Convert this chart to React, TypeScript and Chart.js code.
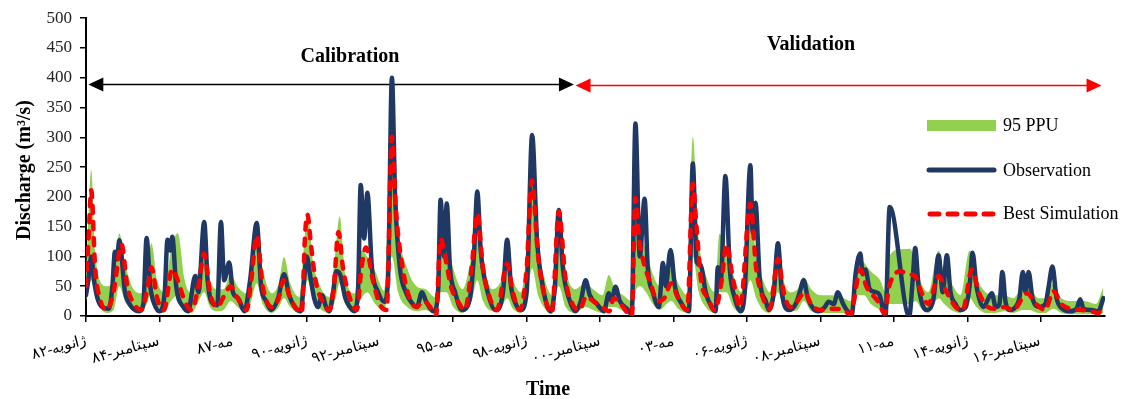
import React, { useEffect, useRef } from "react";
import { Chart, registerables } from "chart.js";

Chart.register(...registerables);

// x axis: months since January 1982
const tickMonths = [0, 32, 64, 96, 128, 160, 192, 224, 256, 288, 320, 352, 384, 416];
const tickLabels = [
  "ژانویه-۸۲", "سپتامبر-۸۴", "مه-۸۷", "ژانویه-۹۰", "سپتامبر-۹۲", "مه-۹۵", "ژانویه-۹۸",
  "سپتامبر-۰۰", "مه-۰۳", "ژانویه-۰۶", "سپتامبر-۰۸", "مه-۱۱", "ژانویه-۱۴", "سپتامبر-۱۶",
];

const obsMonth = [
  0, 1, 2.3, 3.5, 5, 7, 10, 11.5, 12.6, 13.5, 14.5, 17, 19, 23, 25, 26.4, 28, 30, 32, 34.3, 35.5, 36.7, 37.6, 39.3,
  42.4, 44.5, 47.6, 49, 51.5, 53, 55.4, 57.2, 58.8, 60.2, 62.4, 64, 66.3, 69, 71.5, 74.4, 76.3, 78.5, 80.7, 83.7,
  86.3, 88.5, 91, 93.6, 95, 96.2, 97.6, 99.4, 101, 102.9, 104.6, 106, 107.7, 109, 110.7, 113, 115, 116.8, 118.5,
  119.7, 121.2, 122.6, 124.6, 127.3, 130, 131.6, 133.3, 134.7, 136.8, 139.4, 142, 144.2, 146.4, 148.1, 151.6, 153.4,
  154.5, 156, 157.2, 158.6, 160.8, 163.8, 167.3, 169, 170.5, 172, 174.7, 178.5, 181.7, 183.5, 185.2, 187.3, 189.4,
  192, 194.4, 196.5, 199, 202.4, 204.3, 206, 207.8, 210.4, 213.3, 215.6, 217.7, 219.5, 222.6, 225.7, 227.8, 229,
  230.7, 232.6, 235.7, 237.8, 239.4, 241.3, 243.4, 244.8, 247, 249.6, 251.4, 252.6, 254.7, 256.6, 259.6, 262.7,
  264.4, 266.1, 267.9, 270, 272.6, 274.3, 275.3, 276.6, 278.6, 280.5, 282.7, 285.2, 287, 289.5, 290.5, 291.7, 293.6,
  296.2, 297.5, 299.7, 301.5, 303.2, 306.2, 309.2, 311, 312.7, 314.5, 317, 319.2, 321.9, 323.6, 325.8, 327.6, 329.7,
  331.5, 333.7, 335.3, 337.4, 338.4, 339.6, 341.5, 344.1, 345.8, 348.3, 350.2, 358.7, 360.2, 361.3, 362.8, 366.3,
  369.3, 371.5, 373.3, 375.1, 376.7, 378.9, 381, 383.3, 385, 386.3, 388, 391, 394.7, 396.4, 398, 399.3, 400.6, 402.7,
  405, 406.7, 408.2, 409.4, 410.7, 412.4, 415.5, 418, 419.4, 421.1, 422.9, 425.5, 428.6, 431.6, 433.2, 434.6, 438.1,
  441.1, 443.3,
];
const obsValue = [
  35, 60, 100, 60, 30, 15, 12, 50, 108, 95, 127, 40, 20, 8, 20, 131, 50, 18, 8, 40, 128, 110, 133, 50,
  15, 8, 67, 40, 158, 60, 20, 18, 158, 60, 90, 40, 30, 8, 60, 156, 50, 25, 10, 30,
  70, 35, 15, 8, 60, 100, 70, 30, 15, 35, 15, 8, 40, 75, 70, 30, 15, 8, 40,
  220, 130, 207, 80, 40, 24, 60, 400, 200, 80, 40, 22, 15, 40, 25, 8, 40,
  195, 100, 189, 80, 40, 10, 30, 100, 209, 110, 45, 10, 40, 128, 50, 20, 10,
  40, 304, 130, 50, 8, 50, 178, 80, 30, 8, 25, 60, 35, 20, 8, 38, 25,
  49, 25, 12, 3, 323, 100, 197, 80, 40, 15, 89, 50, 111, 50, 20, 8,
  256, 90, 85, 40, 15, 8, 82, 60, 235, 80, 30, 8, 40, 253, 140, 190, 60,
  25, 10, 40, 122, 40, 10, 20, 40, 60, 30, 12, 8, 15, 24, 20, 40, 22,
  10, 3, 70, 105, 70, 78, 45, 40, 35, 0, 183, 0, 60, 114, 50, 10,
  30, 102, 40, 102, 40, 20, 10, 15, 50, 106, 50, 15, 38, 15, 20, 74, 25, 10,
  15, 30, 74, 40, 74, 30, 15, 20, 48, 83, 30, 12, 8, 12, 28, 12, 10,
  8, 30,
];

const simMonth = [
  0, 1, 2.3, 4, 6, 9, 12, 15.5, 18, 21, 24, 27, 28.5, 31, 34, 37.5, 40, 43, 46, 49, 51.5, 54, 57, 61, 63, 66, 70,
  72, 74.4, 77, 81, 84, 86, 89, 92, 94, 95.5, 96.5, 98, 100, 103, 106, 108, 110, 112, 115, 118, 120, 122, 125, 128,
  131, 133.3, 135, 138, 141, 144, 147, 150, 152.5, 154.5, 156.5, 159, 162, 165, 168, 170.5, 173, 176, 179, 183.5,
  186, 189, 192, 194.2, 197, 200, 203, 206, 209, 212, 215, 218, 221, 225, 228, 230, 233, 237.8, 239.4, 241, 243,
  246, 249, 252, 255, 258, 262, 264.4, 266, 268, 271, 274, 277, 279, 282, 285, 289.5, 292, 295, 298, 301.5, 304,
  307, 310, 313, 316, 320, 325, 330, 333, 337.5, 340, 345, 348, 350, 355, 358, 361, 364, 367, 371.5, 375, 379, 382,
  386, 389, 393, 396, 400, 404, 410, 414, 418, 421.5, 425, 429, 434, 438, 441, 443.3,
];
const simValue = [
  50, 120, 211, 80, 30, 10, 40, 120, 50, 20, 10, 50, 82, 30, 10, 78, 60, 25, 10, 50, 105, 40, 15, 40, 50, 30, 10,
  60, 135, 50, 15, 30, 60, 30, 10, 5, 140, 170, 120, 60, 25, 10, 50, 141, 80, 30, 10, 80, 115, 60, 20,
  10, 301, 180, 80, 30, 15, 25, 15, 0, 130, 100, 50, 25, 10, 80, 172, 80, 30, 10, 88,
  40, 10, 80, 228, 100, 30, 5, 176, 60, 20, 10, 33, 25, 15, 8, 30, 20, 0, 198, 130, 90,
  55, 25, 30, 55, 30, 10, 222, 150, 60, 30, 10, 60, 120, 60, 15, 189, 80, 30, 12, 96, 40,
  15, 25, 40, 20, 10, 12, 10, 3, 78, 50, 25, 5, 50, 75, 70, 68, 40, 20, 67, 40, 15, 10,
  78, 40, 15, 12, 15, 10, 38, 20, 10, 42, 20, 12, 10, 8, 5, 12,
];

const ppuMonth = [
  0, 2.3, 4, 6, 9, 12, 14.5, 17, 20, 24, 26.5, 28.5, 31, 34, 37, 40, 43, 46, 48.5, 51.5, 54, 57, 60, 63, 66, 70, 72,
  74.4, 77, 81, 84, 86.3, 89, 93, 95, 96.5, 99, 102, 106, 108.5, 110.5, 113, 117, 120, 122.5, 126, 130, 133.3, 136,
  140, 144, 148, 152, 154.5, 157, 160, 164, 168, 170.5, 173, 177, 181, 183.5, 186, 189.5, 192, 194.4, 197, 200, 203,
  206, 209, 213, 217.7, 221, 225, 227.8, 230.5, 234, 238, 239.4, 241.5, 244, 247, 250, 253, 255, 258, 262, 264.4,
  267, 270, 274, 276, 279, 282, 285.5, 289.5, 292, 295, 298, 301.5, 304, 307, 310, 312.7, 316, 320, 325, 330, 333.5,
  336.5, 339, 342, 346, 348.5, 350, 355, 359, 361.5, 364, 367, 371.5, 374, 377, 381, 385, 388, 392, 396, 400, 404,
  408, 411, 415, 418, 421.5, 425, 430, 435, 440, 443.3,
];
const ppuUpper = [
  60, 245, 110, 60, 50, 60, 139, 90, 50, 38, 70, 122, 60, 40, 110, 139, 60, 38, 70, 110, 60, 45, 45, 70, 50, 38, 80,
  150, 80, 38, 55, 99, 55, 32, 120, 175, 90, 50, 32, 100, 167, 70, 38, 110, 100, 75, 42, 305, 150,
  80, 50, 45, 32, 140, 130, 80, 45, 100, 150, 90, 45, 60, 95, 60, 40, 110, 230, 120, 60, 35,
  176, 80, 45, 55, 45, 35, 69, 45, 35, 25, 200, 140, 110, 70, 50, 60, 80, 55, 35, 301,
  130, 70, 40, 138, 110, 70, 40, 190, 100, 60, 40, 125, 60, 40, 45, 65, 45, 35, 35, 30, 25,
  105, 90, 75, 60, 40, 100, 112, 113, 90, 55, 40, 110, 70, 55, 35, 110, 65, 40, 35, 35, 30,
  45, 45, 30, 30, 55, 30, 25, 25, 20, 49,
];
const ppuLower = [
  25, 60, 30, 15, 5, 10, 50, 25, 10, 5, 20, 40, 15, 5, 25, 35, 12, 5, 20, 40, 15, 8, 10, 25, 15, 5, 25,
  55, 20, 5, 15, 30, 15, 5, 30, 60, 30, 12, 5, 25, 55, 20, 5, 30, 40, 20, 8, 100, 40,
  15, 8, 10, 3, 40, 40, 15, 5, 25, 60, 25, 8, 15, 30, 12, 5, 30, 80, 35, 12, 3,
  50, 15, 5, 15, 10, 5, 15, 15, 8, 3, 40, 50, 40, 20, 10, 20, 25, 12, 5, 100,
  40, 15, 5, 40, 40, 15, 5, 60, 30, 10, 5, 40, 15, 8, 10, 25, 8, 5, 5, 5, 2,
  35, 35, 20, 10, 3, 20, 20, 20, 25, 12, 5, 30, 20, 10, 5, 30, 15, 5, 5, 8, 5,
  10, 10, 5, 5, 12, 5, 3, 3, 3, 5,
];

// period arrows: [start month, end month, level in m3/s]
const calibrationArrow = [1, 212.6, 390];
const validationArrow = [213.3, 442.5, 388];

const SERIF = '"Liberation Serif", "Times New Roman", serif';
const GREEN = "#92d050";
const NAVY = "#203864";
const RED = "#ff0000";

function pts(xs: number[], ys: number[]) {
  return xs.map((x, i) => ({ x, y: ys[i] }));
}

function drawArrow(ctx: CanvasRenderingContext2D, x1: number, x2: number, y: number, color: string) {
  const L = 15;
  const H = 7;
  ctx.save();
  ctx.strokeStyle = color;
  ctx.fillStyle = color;
  ctx.lineWidth = 1.5;
  ctx.beginPath();
  ctx.moveTo(x1 + L - 2, y);
  ctx.lineTo(x2 - L + 2, y);
  ctx.stroke();
  ctx.beginPath();
  ctx.moveTo(x1, y);
  ctx.lineTo(x1 + L, y - H);
  ctx.lineTo(x1 + L, y + H);
  ctx.closePath();
  ctx.fill();
  ctx.beginPath();
  ctx.moveTo(x2, y);
  ctx.lineTo(x2 - L, y - H);
  ctx.lineTo(x2 - L, y + H);
  ctx.closePath();
  ctx.fill();
  ctx.restore();
}

const overlayPlugin = {
  id: "overlay",
  beforeDatasetsDraw(chart: any) {
    const ctx = chart.ctx as CanvasRenderingContext2D;
    const xs = chart.scales.x;
    const ys = chart.scales.y;
    drawArrow(ctx, xs.getPixelForValue(calibrationArrow[0]), xs.getPixelForValue(calibrationArrow[1]),
      Math.round(ys.getPixelForValue(calibrationArrow[2])) + 0.5, "#000000");
    drawArrow(ctx, xs.getPixelForValue(validationArrow[0]), xs.getPixelForValue(validationArrow[1]),
      Math.round(ys.getPixelForValue(validationArrow[2])) + 0.5, RED);
  },
  afterDraw(chart: any) {
    const ctx = chart.ctx as CanvasRenderingContext2D;
    ctx.save();
    ctx.fillStyle = "#000000";
    ctx.textAlign = "center";
    ctx.textBaseline = "middle";
    ctx.font = `bold 20px ${SERIF}`;
    ctx.fillText("Calibration", 350, 57);
    ctx.fillText("Validation", 811, 45);
    ctx.fillText("Time", 548, 390);
    ctx.save();
    ctx.translate(25, 170);
    ctx.rotate(-Math.PI / 2);
    ctx.fillText("Discharge (m³/s)", 0, 0);
    ctx.restore();

    // legend
    const lx1 = 927;
    const lx2 = 996;
    ctx.fillStyle = GREEN;
    ctx.fillRect(lx1, 120, lx2 - lx1, 11);
    ctx.lineWidth = 5;
    ctx.lineCap = "round";
    ctx.strokeStyle = NAVY;
    ctx.beginPath();
    ctx.moveTo(lx1 + 2, 170);
    ctx.lineTo(lx2 - 2, 170);
    ctx.stroke();
    ctx.strokeStyle = RED;
    ctx.setLineDash([9, 9]);
    ctx.beginPath();
    ctx.moveTo(lx1 + 3, 214);
    ctx.lineTo(lx2 - 2, 214);
    ctx.stroke();
    ctx.setLineDash([]);
    ctx.fillStyle = "#000000";
    ctx.textAlign = "left";
    ctx.font = `18px ${SERIF}`;
    ctx.fillText("95 PPU", 1003, 126);
    ctx.fillText("Observation", 1003, 171);
    ctx.fillText("Best Simulation", 1003, 214);
    ctx.restore();
  },
};

export default function App() {
  const canvasRef = useRef<HTMLCanvasElement | null>(null);

  useEffect(() => {
    document.body.style.margin = "0";
    const canvas = canvasRef.current;
    if (!canvas) return;
    const tickFont = { family: SERIF, size: 17 };
    const chart = new Chart(canvas, {
      type: "line",
      data: {
        datasets: [
          {
            label: "Best Simulation",
            data: pts(simMonth, simValue),
            borderColor: RED,
            borderWidth: 4.5,
            borderDash: [7, 9],
            borderCapStyle: "round",
            pointRadius: 0,
            cubicInterpolationMode: "monotone",
            fill: false,
          },
          {
            label: "Observation",
            data: pts(obsMonth, obsValue),
            borderColor: NAVY,
            borderWidth: 4.5,
            borderCapStyle: "round",
            borderJoinStyle: "round",
            pointRadius: 0,
            cubicInterpolationMode: "monotone",
            fill: false,
          },
          {
            label: "95 PPU",
            data: pts(ppuMonth, ppuUpper),
            borderColor: GREEN,
            borderWidth: 0,
            backgroundColor: GREEN,
            pointRadius: 0,
            cubicInterpolationMode: "monotone",
            fill: "+1",
          },
          {
            label: "95 PPU lower",
            data: pts(ppuMonth, ppuLower),
            borderColor: GREEN,
            borderWidth: 0,
            pointRadius: 0,
            cubicInterpolationMode: "monotone",
            fill: false,
          },
        ],
      },
      options: {
        responsive: false,
        animation: false,
        events: [],
        layout: { padding: { top: 18, right: 17, left: 0, bottom: 0 } },
        plugins: { legend: { display: false }, tooltip: { enabled: false }, title: { display: false } },
        scales: {
          x: {
            type: "linear",
            min: 0,
            max: 444,
            afterBuildTicks: (s: any) => {
              s.ticks = tickMonths.map((v) => ({ value: v }));
            },
            afterFit: (s: any) => {
              s.height = 83;
            },
            ticks: {
              autoSkip: false,
              minRotation: 15,
              maxRotation: 15,
              padding: 10,
              color: "#000000",
              font: { family: SERIF, size: 15 },
              callback: (_v: any, i: number) => tickLabels[i],
            },
            grid: { display: true, drawOnChartArea: false, drawTicks: true, tickLength: 6, color: "#000000", lineWidth: 1.5 },
            border: { display: true, color: "#000000", width: 2 },
          },
          y: {
            min: 0,
            max: 500,
            afterFit: (s: any) => {
              s.width = 86;
            },
            ticks: { stepSize: 50, padding: 8, color: "#222222", font: tickFont },
            grid: { display: true, drawOnChartArea: false, drawTicks: true, tickLength: 6, color: "#000000", lineWidth: 1.5 },
            border: { display: true, color: "#000000", width: 2 },
          },
        },
      },
      plugins: [overlayPlugin],
    } as any);
    return () => chart.destroy();
  }, []);

  return (
    <canvas
      ref={canvasRef}
      width={1122}
      height={399}
      style={{ display: "block", width: "1122px", height: "399px" }}
    />
  );
}
